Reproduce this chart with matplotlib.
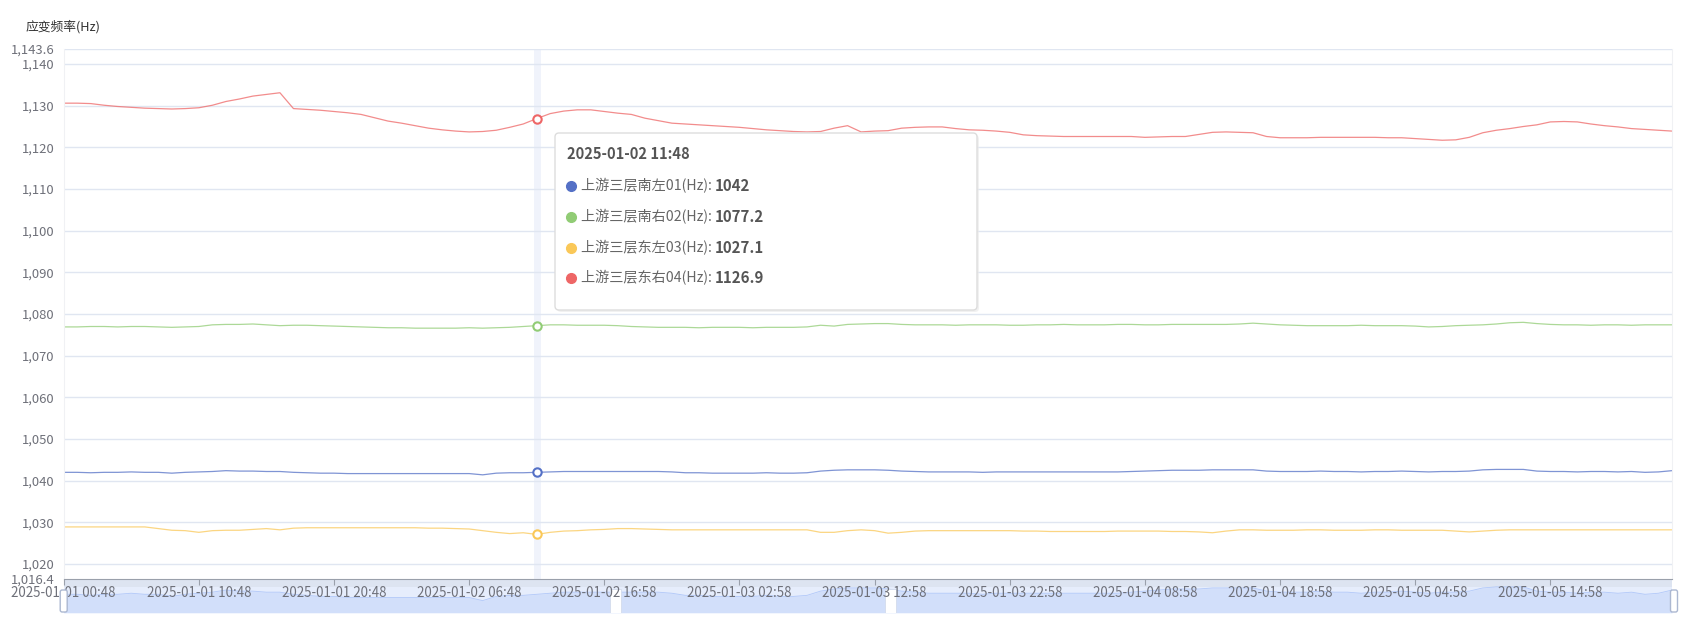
import numpy as np
import matplotlib
matplotlib.use('Agg')
import matplotlib.pyplot as plt
from matplotlib.patches import FancyBboxPatch, Rectangle

plt.rcParams['font.family'] = ['Noto Sans CJK SC', 'DejaVu Sans']

# tick labels of the category axis (every 10th point)
tick_labels = ['2025-01-01 00:48', '2025-01-01 10:48', '2025-01-01 20:48',
               '2025-01-02 06:48', '2025-01-02 16:58', '2025-01-03 02:58',
               '2025-01-03 12:58', '2025-01-03 22:58', '2025-01-04 08:58',
               '2025-01-04 18:58', '2025-01-05 04:58', '2025-01-05 14:58']
tick_step = 10
n_points = 120
hover_idx = 35
hover_time = '2025-01-02 11:48'

names = ['上游三层南左01(Hz)', '上游三层南右02(Hz)', '上游三层东左03(Hz)', '上游三层东右04(Hz)']
colors = ['#5470c6', '#91cc75', '#fac858', '#ee6666']

s01 = [
    1042.0, 1042.0, 1041.9, 1042.0, 1042.0, 1042.1, 1042.0, 1042.0, 1041.8, 1042.0,
    1042.1, 1042.2, 1042.4, 1042.3, 1042.3, 1042.2, 1042.2, 1042.0, 1041.9, 1041.8,
    1041.8, 1041.7, 1041.7, 1041.7, 1041.7, 1041.7, 1041.7, 1041.7, 1041.7, 1041.7,
    1041.7, 1041.4, 1041.8, 1041.9, 1041.9, 1042.0, 1042.1, 1042.2, 1042.2, 1042.2,
    1042.2, 1042.2, 1042.2, 1042.2, 1042.2, 1042.1, 1041.9, 1041.9, 1041.8, 1041.8,
    1041.8, 1041.8, 1041.9, 1041.8, 1041.8, 1041.9, 1042.3, 1042.5, 1042.6, 1042.6,
    1042.6, 1042.5, 1042.3, 1042.2, 1042.1, 1042.1, 1042.1, 1042.1, 1042.0, 1042.1,
    1042.1, 1042.1, 1042.1, 1042.1, 1042.1, 1042.1, 1042.1, 1042.1, 1042.1, 1042.2,
    1042.3, 1042.4, 1042.5, 1042.5, 1042.5, 1042.6, 1042.6, 1042.6, 1042.6, 1042.3,
    1042.2, 1042.2, 1042.2, 1042.3, 1042.2, 1042.2, 1042.1, 1042.2, 1042.2, 1042.3,
    1042.2, 1042.1, 1042.2, 1042.2, 1042.3, 1042.6, 1042.7, 1042.7, 1042.7, 1042.3,
    1042.2, 1042.2, 1042.1, 1042.2, 1042.2, 1042.1, 1042.2, 1042.0, 1042.1, 1042.4]

s02 = [
    1076.9, 1076.9, 1077.0, 1077.0, 1076.9, 1077.0, 1077.0, 1076.9, 1076.8, 1076.9,
    1077.0, 1077.4, 1077.5, 1077.5, 1077.6, 1077.4, 1077.2, 1077.3, 1077.3, 1077.2,
    1077.1, 1077.0, 1076.9, 1076.8, 1076.7, 1076.7, 1076.6, 1076.6, 1076.6, 1076.6,
    1076.7, 1076.6, 1076.7, 1076.8, 1077.0, 1077.2, 1077.4, 1077.4, 1077.3, 1077.3,
    1077.3, 1077.2, 1077.0, 1076.9, 1076.8, 1076.8, 1076.8, 1076.7, 1076.8, 1076.8,
    1076.8, 1076.7, 1076.8, 1076.8, 1076.8, 1076.9, 1077.3, 1077.1, 1077.5, 1077.6,
    1077.7, 1077.7, 1077.5, 1077.4, 1077.4, 1077.4, 1077.3, 1077.4, 1077.4, 1077.4,
    1077.3, 1077.3, 1077.4, 1077.4, 1077.5, 1077.4, 1077.4, 1077.4, 1077.5, 1077.5,
    1077.4, 1077.4, 1077.5, 1077.5, 1077.5, 1077.5, 1077.5, 1077.6, 1077.8, 1077.6,
    1077.4, 1077.3, 1077.2, 1077.2, 1077.2, 1077.2, 1077.3, 1077.2, 1077.2, 1077.2,
    1077.1, 1076.9, 1077.0, 1077.2, 1077.3, 1077.4, 1077.6, 1077.9, 1078.0, 1077.7,
    1077.5, 1077.4, 1077.4, 1077.3, 1077.4, 1077.4, 1077.3, 1077.4, 1077.4, 1077.4]

s03 = [
    1028.9, 1028.9, 1028.9, 1028.9, 1028.9, 1028.9, 1028.9, 1028.5, 1028.1, 1028.0,
    1027.6, 1028.0, 1028.1, 1028.1, 1028.3, 1028.5, 1028.2, 1028.6, 1028.7, 1028.7,
    1028.7, 1028.7, 1028.7, 1028.7, 1028.7, 1028.7, 1028.7, 1028.6, 1028.6, 1028.5,
    1028.4, 1028.0, 1027.6, 1027.3, 1027.5, 1027.1, 1027.6, 1027.9, 1028.0, 1028.2,
    1028.3, 1028.5, 1028.5, 1028.4, 1028.3, 1028.2, 1028.2, 1028.2, 1028.2, 1028.2,
    1028.2, 1028.2, 1028.2, 1028.2, 1028.2, 1028.2, 1027.6, 1027.6, 1028.0, 1028.2,
    1028.0, 1027.4, 1027.6, 1027.9, 1028.0, 1028.0, 1028.0, 1028.0, 1028.0, 1028.0,
    1028.0, 1027.9, 1027.9, 1027.8, 1027.8, 1027.8, 1027.8, 1027.8, 1027.9, 1027.9,
    1027.9, 1027.9, 1027.8, 1027.8, 1027.7, 1027.5, 1027.9, 1028.2, 1028.2, 1028.1,
    1028.1, 1028.1, 1028.2, 1028.2, 1028.1, 1028.1, 1028.1, 1028.2, 1028.2, 1028.1,
    1028.1, 1028.1, 1028.1, 1027.9, 1027.7, 1027.9, 1028.1, 1028.2, 1028.2, 1028.2,
    1028.2, 1028.2, 1028.2, 1028.2, 1028.2, 1028.2, 1028.2, 1028.2, 1028.2, 1028.2]

s04 = [
    1130.6, 1130.6, 1130.5, 1130.1, 1129.8, 1129.6, 1129.4, 1129.3, 1129.2, 1129.3,
    1129.5, 1130.1, 1131.0, 1131.6, 1132.3, 1132.7, 1133.1, 1129.3, 1129.1, 1128.9,
    1128.6, 1128.3, 1127.9, 1127.1, 1126.3, 1125.8, 1125.2, 1124.6, 1124.2, 1123.9,
    1123.7, 1123.8, 1124.1, 1124.8, 1125.6, 1126.9, 1128.1, 1128.7, 1129.0, 1129.0,
    1128.6, 1128.2, 1127.9, 1127.0, 1126.4, 1125.8, 1125.6, 1125.4, 1125.2, 1125.0,
    1124.8, 1124.5, 1124.2, 1124.0, 1123.8, 1123.7, 1123.8, 1124.6, 1125.2, 1123.7,
    1123.9, 1124.0, 1124.6, 1124.8, 1124.9, 1124.9, 1124.5, 1124.2, 1124.1, 1123.9,
    1123.6, 1123.0, 1122.8, 1122.7, 1122.6, 1122.6, 1122.6, 1122.6, 1122.6, 1122.6,
    1122.4, 1122.5, 1122.6, 1122.6, 1123.1, 1123.6, 1123.7, 1123.6, 1123.5, 1122.6,
    1122.3, 1122.3, 1122.3, 1122.4, 1122.4, 1122.4, 1122.4, 1122.4, 1122.3, 1122.3,
    1122.1, 1121.9, 1121.7, 1121.8, 1122.4, 1123.5, 1124.1, 1124.5, 1125.0, 1125.4,
    1126.1, 1126.2, 1126.1, 1125.6, 1125.2, 1124.9, 1124.5, 1124.3, 1124.1, 1123.9]

# spots in the zoom slider where the data shadow is blank
shadow_gaps = [40.8, 61.2]

series = [s01, s02, s03, s04]
y_min, y_max = 1016.4, 1143.6
y_ticks = [1016.4, 1020, 1030, 1040, 1050, 1060, 1070, 1080, 1090, 1100, 1110, 1120, 1130, 1140, 1143.6]

W, H = 1693, 631
def fx(x):
    return x / W
def fy(y):
    return 1 - y / H

fig = plt.figure(figsize=(W / 100, H / 100), dpi=100)

# plot area
L, R, T, B = 63.7, 1672, 49, 579
# slider (data zoom) under the chart
SL, SR, ST, SB = 63.7, 1672, 580, 613

axs = fig.add_axes([fx(SL), fy(SB), fx(SR) - fx(SL), fy(ST) - fy(SB)], zorder=1)
x = np.arange(n_points)
shadow = np.array(s01)
ext = shadow.max() - shadow.min()
axs.set_xlim(0, n_points - 1)
axs.set_ylim(shadow.min() - 0.9 * ext, shadow.max() + 0.5 * ext)
axs.set_facecolor('#e6edfc')
axs.fill_between(x, shadow, axs.get_ylim()[0], color='#8fb0f7', alpha=0.22, lw=0)
axs.plot(x, shadow, color='#8fb0f7', lw=0.6, alpha=0.6)
for g in shadow_gaps:
    axs.add_patch(Rectangle((g - 0.4, 0), 0.8, 1 - 9 / 33, transform=axs.get_xaxis_transform(),
                            fc='white', ec='#d3dbec', lw=0.6, zorder=3))
axs.add_patch(Rectangle((0, 1 - 7 / 33), 1, 7 / 33, transform=axs.transAxes,
                        color='#dde4f1', lw=0))
for sp in axs.spines.values():
    sp.set_visible(False)
axs.set_xticks([])
axs.set_yticks([])

ax = fig.add_axes([fx(L), fy(B), fx(R) - fx(L), fy(T) - fy(B)], zorder=2)
ax.patch.set_alpha(0)
ax.set_xlim(0, n_points - 1)
ax.set_ylim(y_min, y_max)

ax.axvline(hover_idx, color='#f0f3fb', lw=5, zorder=0)
for v in y_ticks[1:]:
    ax.axhline(v, color='#E0E6F1', lw=1, zorder=0.5)

for s, c in zip(series, colors):
    ax.plot(x, s, color=c, lw=0.9, alpha=0.75, zorder=2)
    ax.plot(hover_idx, s[hover_idx], 'o', ms=6, mfc='white', mec=c, mew=1.5, zorder=3)

ax.set_yticks(y_ticks)
ax.set_yticklabels(['{:,.0f}'.format(v) if float(v).is_integer() else '{:,.1f}'.format(v) for v in y_ticks])
ax.tick_params(axis='y', length=0, pad=6.5, labelsize=9.4, labelcolor='#6e7079')
ax.set_xticks(np.arange(0, n_points, tick_step))
ax.set_xticklabels(tick_labels)
ax.tick_params(axis='x', length=4, width=0.8, color='#9aa0ab', pad=1.2, labelsize=9.6, labelcolor='#6e7079')

ax.spines['top'].set_visible(False)
ax.spines['bottom'].set_color('#9aa0ab')
ax.spines['left'].set_color('#f0f1f4')
ax.spines['right'].set_color('#f0f1f4')

fig.text(fx(26), fy(27), '应变频率(Hz)', fontsize=9.2, color='#333333', va='center', ha='left')

# overlay in pixel coordinates for tooltip and slider handles
ov = fig.add_axes([0, 0, 1, 1], zorder=5)
ov.set_xlim(0, W)
ov.set_ylim(H, 0)
ov.axis('off')
ov.patch.set_alpha(0)

for hx in (SL, SR + 2):
    ov.add_patch(FancyBboxPatch((hx - 3.5, 590), 7, 22, boxstyle='round,pad=0,rounding_size=2',
                                fc='white', ec='#acb8d1', lw=1))

# tooltip
ov.add_patch(FancyBboxPatch((557, 135), 422, 177, boxstyle='round,pad=0,rounding_size=4',
                            fc='#e9e9e9', ec='none', alpha=0.6))
ov.add_patch(FancyBboxPatch((555, 133), 422, 177, boxstyle='round,pad=0,rounding_size=4',
                            fc='white', ec='#dddddd', lw=1))
ov.text(567, 154, hover_time, fontsize=10.6, fontweight='bold', color='#555555', va='center', ha='left')

fig.canvas.draw()
renderer = fig.canvas.get_renderer()
row_y = [186, 217, 248, 278]
for ry, name, s, c in zip(row_y, names, series, colors):
    ov.plot(571, ry, 'o', ms=7, color=c)
    t = ov.text(581, ry, name + ': ', fontsize=10.2, color='#666666', va='center', ha='left')
    bb = t.get_window_extent(renderer)
    val = s[hover_idx]
    ov.text(bb.x1, ry, '{:g}'.format(val), fontsize=10.8, fontweight='bold', color='#555555',
            va='center', ha='left')

fig.savefig('out.png', dpi=100)
